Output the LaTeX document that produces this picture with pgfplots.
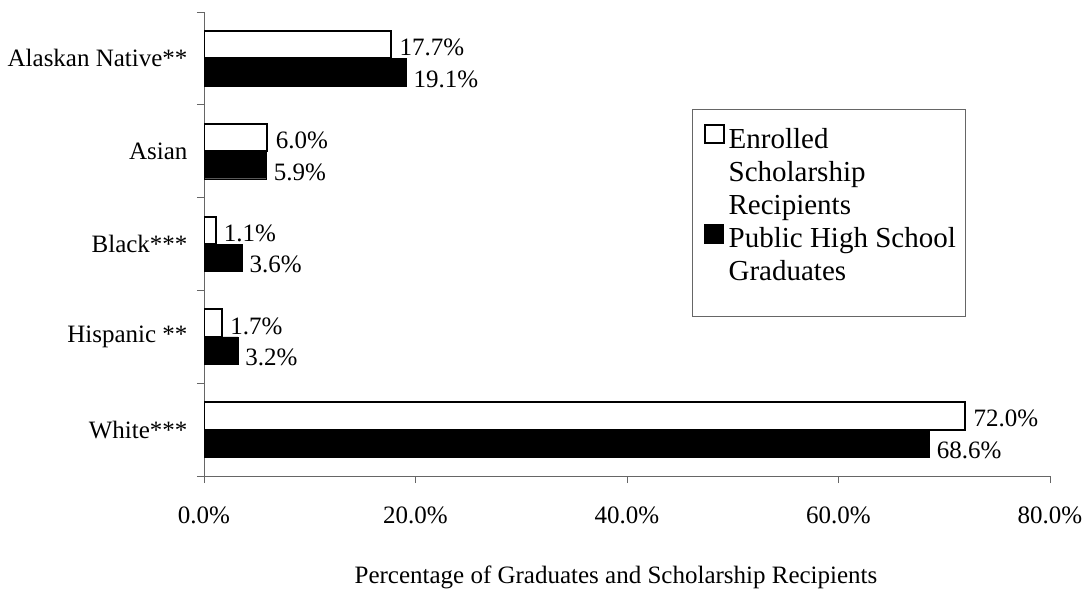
\documentclass[border=0pt]{standalone}
\usepackage{fontspec}
\setmainfont{Liberation Serif}
\usepackage{pgfplots}
\pgfplotsset{compat=1.18}
\newcommand{\lbl}{\fontsize{25}{29}\selectfont}
\newcommand{\lgd}{\fontsize{29}{33}\selectfont}
\colorlet{axisgray}{black!60}
\begin{document}
\begin{tikzpicture}
\useasboundingbox (0,0) rectangle (1086pt,595pt);
\begin{axis}[
  at={(204pt,119pt)}, anchor=south west,
  scale only axis, width=846pt, height=464pt,
  xbar, bar width=27.5pt,
  xmin=0, xmax=80, ymin=-0.5, ymax=4.5,
  axis lines*=left,
  axis line style={axisgray, line width=1pt},
  xtick={0,20,40,60,80},
  xticklabel={\pgfmathprintnumber[fixed,fixed zerofill,precision=1]{\tick}\%},
  ytick={-0.5,0.5,1.5,2.5,3.5,4.5},
  yticklabels={},
  extra y ticks={0,1,2,3,4},
  extra y tick labels={White***,Hispanic **,Black***,Asian,Alaskan Native**},
  extra y tick style={major tick length=0pt, yticklabel style={xshift=-13pt}},
  tick align=outside, major tick length=7pt,
  tick style={axisgray, line width=1pt},
  /pgf/number format/assume math mode=true,
  ticklabel style={font=\lbl},
  xticklabel style={yshift=-20pt},
  xlabel={Percentage of Graduates and Scholarship Recipients},
  xlabel style={font=\lbl, at={(axis description cs:0.5,0)}, anchor=center, yshift=-101pt, xshift=-11pt},
  point meta=x,
  nodes near coords={\pgfmathprintnumber[fixed,fixed zerofill,precision=1]{\pgfplotspointmeta}\%},
  every node near coord/.append style={font=\lbl, anchor=west, xshift=4pt},
  legend style={at={(axis description cs:0.577,0.791)}, anchor=north west,
    draw=axisgray, line width=1pt, font=\lgd, cells={align=left},
    inner xsep=8pt, inner ysep=15pt, row sep=6pt},
  legend cell align=left,
]
\addplot[fill=white, draw=black, line width=2pt, bar shift=13.75pt,
  every node near coord/.append style={yshift=-3pt},
  legend image code/.code={\draw[fill=white, draw=black, line width=2pt] (0pt,29pt) rectangle (19pt,47pt);
    \path[draw=none, fill=none] (-4pt,0pt) -- (22pt,0pt);}]
  coordinates {(72.0,0) (1.7,1) (1.1,2) (6.0,3) (17.7,4)};
\addlegendentry{Enrolled\\Scholarship\\Recipients}
\addplot[fill=black, draw=black, bar shift=-13.75pt,
  every node near coord/.append style={yshift=-7pt},
  legend image code/.code={\draw[fill=black, draw=black] (0pt,10.5pt) rectangle (19pt,29.5pt);
    \path[draw=none, fill=none] (-4pt,-47pt) -- (22pt,0pt);}]
  coordinates {(68.6,0) (3.2,1) (3.6,2) (5.9,3) (19.1,4)};
\addlegendentry{Public High School\\Graduates}
\end{axis}
\end{tikzpicture}
\end{document}
